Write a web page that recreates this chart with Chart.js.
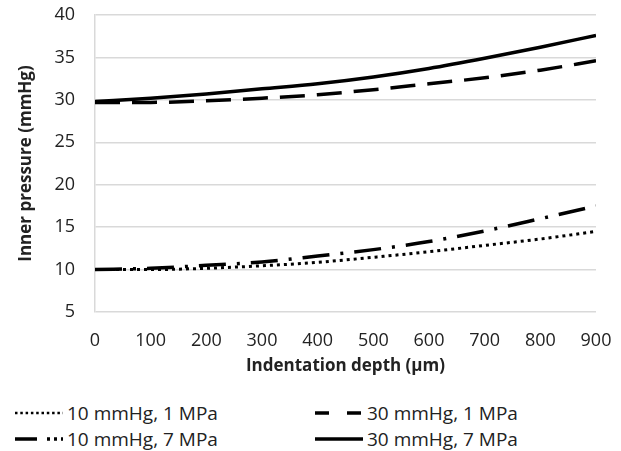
<!DOCTYPE html>
<html>
<head>
<meta charset="utf-8">
<script src="https://cdn.jsdelivr.net/npm/chart.js@4/dist/chart.umd.min.js"></script>
<style>
  body { margin: 0; background: #fff; }
  #wrap { position: relative; width: 621px; height: 451px; font-family: "Open Sans", sans-serif; color: #222; }
  #box { position: absolute; left: 0; top: 0; width: 621px; height: 380px; }
  .item { position: absolute; height: 26px; display: flex; align-items: center; font-size: 19px; white-space: nowrap; }
  .item canvas { margin-right: 4px; }
</style>
</head>
<body>
<div id="wrap">
  <div id="box"><canvas id="lineChart"></canvas></div>
  <div id="legend"></div>
</div>
<script>
// indentation depth (um)
const depth = [0, 100, 200, 300, 400, 500, 600, 700, 800, 900];
// inner pressure (mmHg)
const p10_1MPa = [10.0, 10.0, 10.15, 10.45, 10.85, 11.45, 12.1, 12.85, 13.6, 14.5];
const p10_7MPa = [10.0, 10.15, 10.5, 10.9, 11.6, 12.35, 13.3, 14.55, 16.0, 17.5];
const p30_1MPa = [29.7, 29.7, 29.9, 30.2, 30.6, 31.2, 31.9, 32.6, 33.5, 34.6];
const p30_7MPa = [29.8, 30.2, 30.7, 31.3, 31.9, 32.7, 33.7, 34.9, 36.2, 37.6];
const seriesNames = ['10 mmHg, 1 MPa', '30 mmHg, 1 MPa', '10 mmHg, 7 MPa', '30 mmHg, 7 MPa'];
const yTicks = [5, 10, 15, 20, 25, 30, 35, 40];
const xTicks = [0, 100, 200, 300, 400, 500, 600, 700, 800, 900];

function pts(vals) {
    return depth.map((d, i) => ({x: d, y: vals[i]}));
}

const textColor = '#222';
const gridColor = '#d9d9d9';

const lineData = {
    datasets: [
        {label: seriesNames[0], data: pts(p10_1MPa), borderDash: [3, 4], borderWidth: 3},
        {label: seriesNames[1], data: pts(p30_1MPa), borderDash: [25, 12], borderWidth: 3.5},
        {label: seriesNames[2], data: pts(p10_7MPa), borderDash: [27, 11, 3, 11], borderWidth: 3.5},
        {label: seriesNames[3], data: pts(p30_7MPa), borderDash: [], borderWidth: 3.5}
    ].map(ds => Object.assign(ds, {
        borderColor: '#000',
        backgroundColor: '#000',
        fill: false,
        pointRadius: 0,
        cubicInterpolationMode: 'monotone'
    }))
};

const lineConfig = {
    type: 'line',
    data: lineData,
    options: {
        responsive: true,
        maintainAspectRatio: false,
        animation: false,
        layout: {
            padding: {top: 15, right: 25, bottom: 4, left: 0}
        },
        scales: {
            x: {
                type: 'linear',
                min: 0,
                max: 900,
                afterBuildTicks: axis => { axis.ticks = xTicks.map(v => ({value: v})); },
                afterFit: axis => {
                    axis.height = 64;
                    axis.paddingLeft = 0;
                    axis.paddingRight = 0;
                },
                grid: {display: false, drawTicks: false},
                border: {display: false},
                ticks: {color: textColor, padding: 18, maxRotation: 0, font: {family: 'Open Sans', size: 18}},
                title: {
                    display: true,
                    text: 'Indentation depth (\u00b5m)',
                    color: textColor,
                    padding: {top: 0, bottom: 0},
                    font: {family: 'Open Sans', size: 17, weight: 'bold'}
                }
            },
            y: {
                min: 5,
                max: 40,
                afterBuildTicks: axis => { axis.ticks = yTicks.map(v => ({value: v})); },
                afterFit: axis => {
                    axis.width = 95;
                    axis.paddingTop = 0;
                    axis.paddingBottom = 0;
                },
                grid: {color: gridColor, lineWidth: 1.5, drawTicks: false},
                border: {display: true, color: gridColor, width: 1.5},
                ticks: {color: textColor, padding: 20, font: {family: 'Open Sans', size: 18}},
                title: {
                    display: true,
                    text: 'Inner pressure (mmHg)',
                    color: textColor,
                    padding: {top: 16, bottom: 0},
                    font: {family: 'Open Sans', size: 17, weight: 'bold'}
                }
            }
        },
        plugins: {
            legend: {display: false},
            tooltip: {enabled: false}
        }
    }
};

const lineCanvas = document.getElementById('lineChart');
const lineChart = new Chart(lineCanvas, lineConfig);

// legend below the chart, two columns like the original
const legendPos = [
    {left: 15, top: 400, w: 48},
    {left: 315, top: 400, w: 48},
    {left: 15, top: 426, w: 48},
    {left: 315, top: 426, w: 48}
];
const legendDash = [[2.5, 2.8], [14, 18], [22, 10, 3, 4, 3, 4], []];
const legendDiv = document.getElementById('legend');
lineChart.data.datasets.forEach((ds, i) => {
    const p = legendPos[i];
    const item = document.createElement('div');
    item.className = 'item';
    item.style.left = p.left + 'px';
    item.style.top = p.top + 'px';
    const c = document.createElement('canvas');
    c.width = p.w;
    c.height = 10;
    const ctx = c.getContext('2d');
    ctx.strokeStyle = '#000';
    ctx.lineWidth = i === 0 ? 2.5 : 3.5;
    ctx.setLineDash(legendDash[i]);
    ctx.beginPath();
    ctx.moveTo(0, 5);
    ctx.lineTo(p.w, 5);
    ctx.stroke();
    item.appendChild(c);
    const t = document.createElement('span');
    t.textContent = ds.label;
    item.appendChild(t);
    legendDiv.appendChild(item);
});
</script>
</body>
</html>
